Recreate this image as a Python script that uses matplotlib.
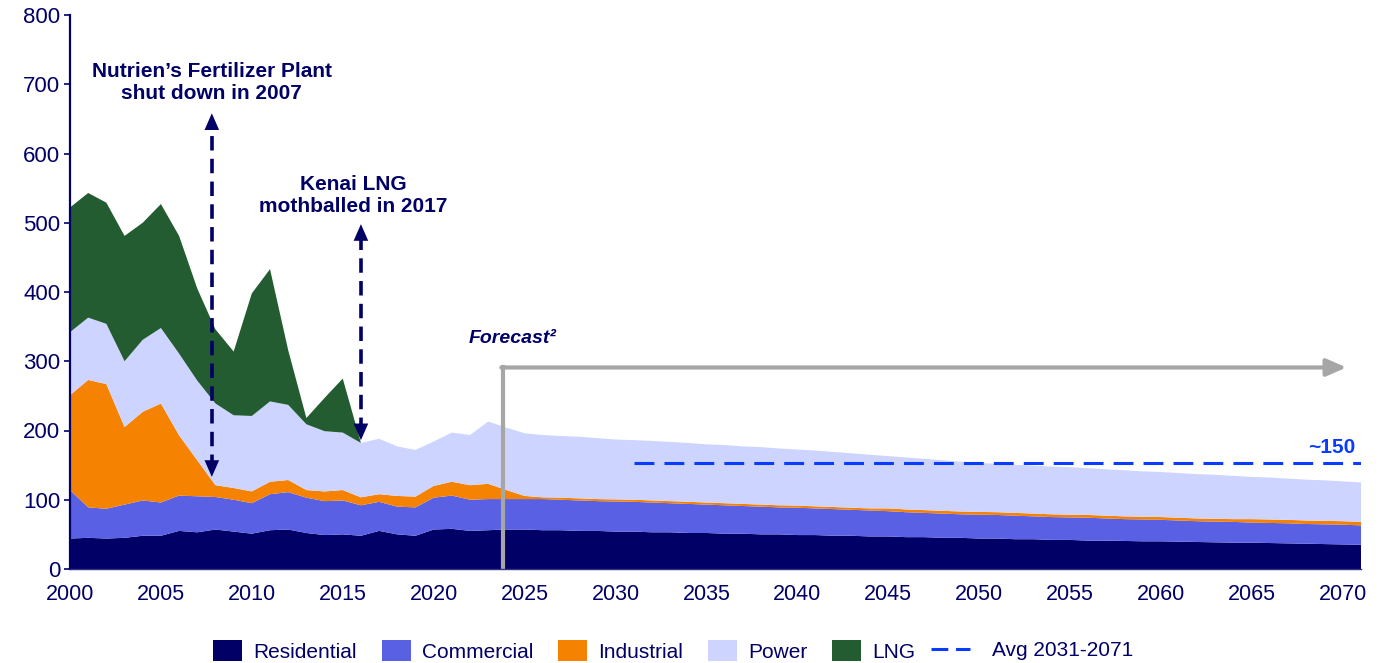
import numpy as np
import matplotlib
matplotlib.use('Agg')
import matplotlib.pyplot as plt
from matplotlib.patches import Rectangle, Patch
from matplotlib.lines import Line2D
from matplotlib.legend_handler import HandlerPatch

plt.rcParams['font.family'] = ['Liberation Sans', 'DejaVu Sans']

# ---------------- data ----------------
years = list(range(2000, 2072))

residential = [44, 45, 44, 45, 48, 48, 55, 53, 57, 54,
               51, 56, 57, 52, 49, 50, 48, 55, 50, 48,
               57, 58, 55, 56, 57, 57, 56, 56, 55, 55,
               54, 54, 53, 53, 52, 52, 51, 51, 50, 50,
               49, 49, 48, 48, 47, 47, 46, 46, 45, 45,
               44, 44, 43, 43, 42, 42, 41, 41, 40.5, 40,
               40, 39.5, 39, 38.5, 38, 38, 37.5, 37, 36.5, 36,
               35.5, 35]

commercial = [70, 44, 43, 48, 51, 48, 51, 52, 47, 46,
              44, 52, 54, 51, 49, 49, 44, 42, 40, 41,
              46, 48, 45, 45, 44, 44, 45, 44, 44, 43,
              43.5, 43, 43, 42, 42, 41, 41, 40, 40, 39,
              39.5, 38.5, 38.5, 37.5, 37.5, 36.5, 36, 35, 35, 34,
              34.5, 34, 34, 33, 33, 32.5, 33, 32, 31.5, 31.5,
              31, 30.5, 30, 30, 30, 29, 29, 29, 28.5, 28.5,
              28.5, 28]

industrial = [137, 184, 180, 112, 128, 143, 87, 52, 17, 17,
              17, 18, 17.5, 11, 14, 15, 11.5, 11, 15.5, 15.5,
              17, 20, 21, 22, 13, 4.5, 2.5, 3, 3, 3,
              3, 3, 3, 3, 3, 3, 3, 3, 3, 3,
              3, 3, 3, 3, 3, 4, 4, 4, 4, 4,
              4, 4, 4, 4, 4, 4, 4, 4, 4, 4,
              4, 4, 4, 4, 4, 5, 5, 5, 5, 5,
              5, 5]

power = [91, 90, 87, 95, 104, 109, 118, 115, 118, 105,
         109, 116, 108.5, 95, 87, 83, 78.5, 80, 71.5, 67.5,
         64, 71, 72.5, 90, 90, 90.5, 90, 89, 89, 88,
         86.5, 86, 86, 85.5, 85, 84, 84, 83, 83, 82,
         81, 80.5, 79.5, 78.5, 77.5, 75.5, 75, 74, 73, 72,
         70.5, 70, 69.5, 69, 69, 68.5, 67.5, 67, 66.5, 65.5,
         65, 64.5, 64, 63.5, 62.5, 61, 60.5, 59.5, 59, 58.5,
         57.5, 57]

lng = [180, 180, 175, 181, 169, 179, 170, 133, 107, 92,
       177, 191, 79, 9, 48, 78] + [0] * 56

series_labels = ['Residential', 'Commercial', 'Industrial', 'Power', 'LNG']
avg_label = 'Avg 2031-2071'
avg_years = [2031, 2071]
avg_value = 153
avg_text = '~150'

x_ticks = list(range(2000, 2071, 5))
y_ticks = list(range(0, 801, 100))

# ---------------- style ----------------
navy = '#000066'
colors = ['#000066', '#5A60E4', '#F58200', '#CCD4FF', '#225C30']
avg_color = '#0A3CFF'
gray = '#A6A6A6'

fig = plt.figure(figsize=(13.8, 6.63), dpi=100)
ax = fig.add_axes([70 / 1380, 94 / 663, 1291 / 1380, 554 / 663])

ax.stackplot(years, residential, commercial, industrial, power, lng,
             colors=colors, linewidth=0, zorder=2)

ax.set_xlim(2000, 2071)
ax.set_ylim(0, 800)
ax.set_xticks(x_ticks)
ax.set_yticks(y_ticks)
ax.tick_params(axis='y', direction='out', length=4, width=1.2, color=navy,
               labelcolor=navy, labelsize=16, pad=3)
ax.tick_params(axis='x', length=0, labelcolor=navy, labelsize=15.5, pad=11)
for s in ['top', 'right']:
    ax.spines[s].set_visible(False)
ax.spines['left'].set_color(navy)
ax.spines['left'].set_linewidth(1.6)
ax.spines['bottom'].set_color('#333388')
ax.spines['bottom'].set_linewidth(1.0)
ax.spines['left'].set_zorder(6)
ax.spines['bottom'].set_zorder(6)

# average line
ax.plot(avg_years, [avg_value, avg_value], color=avg_color, lw=2.2,
        dashes=(6.5, 3.3), zorder=4)
ax.text(2070.7, 176, avg_text, ha='right', va='center', fontsize=15,
        fontweight='bold', color=avg_color, zorder=7)

# forecast arrow
fc_x = 2023.8
fc_y = 291
ax.plot([fc_x, fc_x], [0, fc_y], color=gray, lw=3, solid_capstyle='projecting',
        zorder=5)
ax.annotate('', xy=(2070.2, fc_y), xytext=(fc_x - 0.08, fc_y),
            arrowprops=dict(arrowstyle='-|>,head_length=0.8,head_width=0.35',
                            mutation_scale=15, color=gray, lw=3,
                            shrinkA=0, shrinkB=0),
            zorder=5)
ax.text(2021.9, 333, 'Forecast²', ha='left', va='center', fontsize=14,
        fontweight='bold', style='italic', color=navy)


def dashed_double_arrow(x, y_low, y_high):
    ax.plot([x, x], [y_low + 12, y_high - 12], color=navy, lw=2.6,
            dashes=(4, 2.3), zorder=6)
    hs = '-|>,head_length=0.8,head_width=0.35'
    ax.annotate('', xy=(x, y_high), xytext=(x, y_high - 5),
                arrowprops=dict(arrowstyle=hs, mutation_scale=15, color=navy,
                                lw=0, shrinkA=0, shrinkB=0), zorder=6)
    ax.annotate('', xy=(x, y_low), xytext=(x, y_low + 5),
                arrowprops=dict(arrowstyle=hs, mutation_scale=15, color=navy,
                                lw=0, shrinkA=0, shrinkB=0), zorder=6)


dashed_double_arrow(2007.8, 133, 658)
dashed_double_arrow(2016.0, 186, 498)

ax.text(2007.8, 702, 'Nutrien’s Fertilizer Plant\nshut down in 2007',
        ha='center', va='center', fontsize=15, fontweight='bold', color=navy,
        linespacing=1.2)
ax.text(2015.6, 539, 'Kenai LNG\nmothballed in 2017',
        ha='center', va='center', fontsize=15, fontweight='bold', color=navy,
        linespacing=1.2)


# legend
def narrow_rect(legend, orig_handle, xdescent, ydescent, width, height, fontsize):
    w = width * 29 / 39
    return Rectangle((width - w - xdescent, -ydescent), w, height)


leg_y = 1 - 651 / 663
handles = [Patch(facecolor=c, edgecolor='none', label=l)
           for c, l in zip(colors, series_labels)]
hmap = {h: HandlerPatch(patch_func=narrow_rect) for h in handles}
leg1 = fig.legend(handles=handles, handler_map=hmap, loc='center left',
                  bbox_to_anchor=(203 / 1380, leg_y), ncol=5, frameon=False,
                  fontsize=15, handlelength=1.875, handleheight=1.15,
                  handletextpad=0.53, columnspacing=0.72, borderpad=0,
                  borderaxespad=0)
line_handle = Line2D([0], [0], color=avg_color, lw=2.2, dashes=(5.5, 2.5),
                     label=avg_label)
leg2 = fig.legend(handles=[line_handle], loc='center left',
                  bbox_to_anchor=(931 / 1380, leg_y), ncol=1, frameon=False,
                  fontsize=15, handlelength=1.875, handletextpad=1.06,
                  borderpad=0, borderaxespad=0)
for lg in (leg1, leg2):
    for t in lg.get_texts():
        t.set_color(navy)

fig.savefig('out.png', dpi=100)
